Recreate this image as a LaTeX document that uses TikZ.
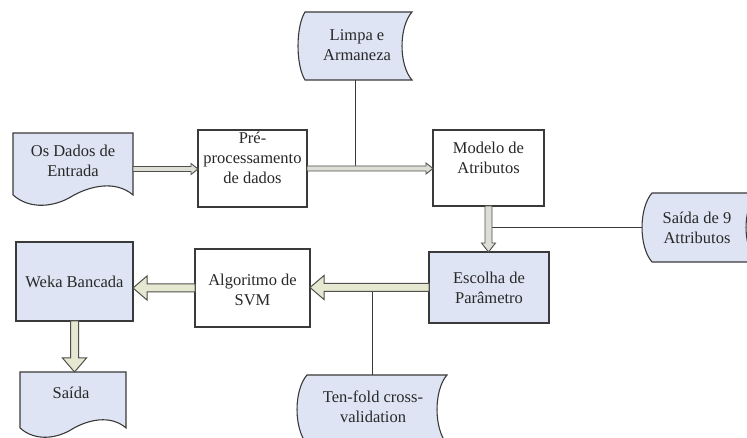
\documentclass[tikz,border=0pt]{standalone}
\usepackage{fontspec}
\setmainfont{Liberation Serif}
\usetikzlibrary{calc}

\definecolor{boxblue}{RGB}{222,228,243}
\definecolor{edge}{RGB}{58,58,58}
\definecolor{ink}{RGB}{40,40,40}
\definecolor{arrfill}{RGB}{230,232,210}
\definecolor{arredge}{RGB}{80,80,74}
\definecolor{thinfill}{RGB}{222,222,215}

\tikzset{
  x=1pt, y=1pt,
  shapebox/.style={rectangle, inner sep=0pt, outer sep=0pt},
  procbox/.style={shapebox, draw=edge, line width=1.1pt, fill=white},
  bluebox/.style={procbox, fill=boxblue},
  txt/.style={text=ink, font=\fontsize{16.5}{20}\selectfont, align=center, inner sep=0pt},
  outline/.style={draw=edge, line width=1.1pt, fill=boxblue},
  conn/.style={draw=edge, line width=0.9pt},
  thinarrow/.style={draw=arredge, fill=thinfill, line width=0.9pt},
  fatarrow/.style={draw=arredge, fill=arrfill, line width=1pt},
}

% document symbol: flat top, wavy bottom
\newcommand\docoutline[1]{%
  \draw[outline] let \p1=(#1.north west), \p2=(#1.south east),
      \n1={\x2-\x1}, \n2={\y1-\y2} in
    (\p1) -- (\x2,\y1) -- (\x2,{\y2+0.14*\n2})
    .. controls ({\x1+0.85*\n1},{\y2+0.35*\n2}) and ({\x1+0.64*\n1},{\y2+0.26*\n2})
    .. ({\x1+0.5*\n1},{\y2+0.13*\n2})
    .. controls ({\x1+0.35*\n1},{\y2-0.03*\n2}) and ({\x1+0.14*\n1},{\y2-0.07*\n2})
    .. (\x1,{\y2+0.14*\n2}) -- cycle;}

% stored-data symbol: both sides bowed to the left
% #1 node, #2 left bulge, #3 right bulge
\newcommand\storedoutline[3]{%
  \draw[outline] let \p1=(#1.north west), \p2=(#1.south east),
      \n2={\y1-\y2} in
    ({\x1+#2},\y1) -- (\x2,\y1)
    .. controls ({\x2-1.33*#3},{\y1-0.22*\n2}) and ({\x2-1.33*#3},{\y2+0.22*\n2})
    .. (\x2,\y2) -- ({\x1+#2},\y2)
    .. controls ({\x1-0.33*#2},{\y2+0.22*\n2}) and ({\x1-0.33*#2},{\y1-0.22*\n2})
    .. cycle;}

% outlined block arrow between two points
% #1 style, #2 from, #3 to, #4 half shaft, #5 half head, #6 head length
\newcommand\blockarrow[6]{%
  \draw[#1] let \p1=(#2), \p2=(#3),
      \n1={veclen(\x2-\x1,\y2-\y1)}, \n2={(\x2-\x1)/\n1}, \n3={(\y2-\y1)/\n1} in
    ({\x1-(\n3)*#4},{\y1+(\n2)*#4})
    -- ({\x2-(\n2)*#6-(\n3)*#4},{\y2-(\n3)*#6+(\n2)*#4})
    -- ({\x2-(\n2)*#6-(\n3)*#5},{\y2-(\n3)*#6+(\n2)*#5})
    -- (\p2)
    -- ({\x2-(\n2)*#6+(\n3)*#5},{\y2-(\n3)*#6-(\n2)*#5})
    -- ({\x2-(\n2)*#6+(\n3)*#4},{\y2-(\n3)*#6-(\n2)*#4})
    -- ({\x1+(\n3)*#4},{\y1-(\n2)*#4}) -- cycle;}

\begin{document}
\begin{tikzpicture}
\useasboundingbox (0,0) rectangle (747,438);
\fill[white] (0,0) rectangle (747,438);
\clip (0,0) rectangle (747,438);

% ---- shapes ----
\node[shapebox, minimum width=120, minimum height=72] (dados) at (73,269) {};
\docoutline{dados}
\node[txt] (dados-t) at (73,277.5) {Os Dados de\\Entrada};

\node[procbox, minimum width=109, minimum height=77] (pre) at (252.5,269.5) {};
\node[txt] (pre-t) at (252.5,280) {Pré-\\processamento\\de dados};

\node[shapebox, minimum width=114, minimum height=68] (limpa) at (355,392) {};
\storedoutline{limpa}{7}{10}
\node[txt] (limpa-t) at (357,393) {Limpa e\\Armaneza};

\node[procbox, minimum width=111, minimum height=76] (modelo) at (488.5,270) {};
\node[txt] (modelo-t) at (488.5,280) {Modelo de\\Atributos};

\node[shapebox, minimum width=115, minimum height=69] (saida9) at (699.5,210.5) {};
\storedoutline{saida9}{10}{11}
\node[txt] (saida9-t) at (697,210) {Saída de 9\\Attributos};

\node[bluebox, minimum width=120, minimum height=71] (escolha) at (489,150.5) {};
\node[txt] (escolha-t) at (489,150) {Escolha de\\Parâmetro};

\node[procbox, minimum width=115, minimum height=78] (svm) at (252.5,150) {};
\node[txt] (svm-t) at (252.5,148) {Algoritmo de\\SVM};

\node[shapebox, minimum width=150, minimum height=69] (tenfold) at (372,28.5) {};
\storedoutline{tenfold}{10}{10}
\node[txt] (tenfold-t) at (373,31) {Ten-fold cross-\\validation};

\node[bluebox, minimum width=117, minimum height=79] (weka) at (74.5,156.5) {};
\node[txt] (weka-t) at (74.5,156) {Weka Bancada};

\node[shapebox, minimum width=106, minimum height=65] (saida) at (73,33.5) {};
\docoutline{saida}
\node[txt] (saida-t) at (71,45) {Saída};

% ---- connectors ----
\draw[conn] (limpa.south) -- ($(limpa.south |- pre.east)+(0,2.5)$);
\blockarrow{thinarrow}{dados.east}{dados.east -| pre.west}{2.5}{5.5}{7}
\blockarrow{thinarrow}{pre.east}{pre.east -| modelo.west}{2.5}{5.5}{7}

\draw[conn] (saida9.west) -- ($(modelo.south |- saida9.west)+(3.5,0)$);
\blockarrow{thinarrow}{modelo.south}{modelo.south |- escolha.north}{3.5}{7}{9}

\draw[conn] (tenfold.north) -- ($(tenfold.north |- escolha.west)+(0,-4)$);
\blockarrow{fatarrow}{escolha.west}{escolha.west -| svm.east}{4}{12}{14}
\blockarrow{fatarrow}{svm.west}{svm.west -| weka.east}{4}{12}{14}
\blockarrow{fatarrow}{weka.south}{weka.south |- saida.north}{4}{12}{14}
\end{tikzpicture}
\end{document}
